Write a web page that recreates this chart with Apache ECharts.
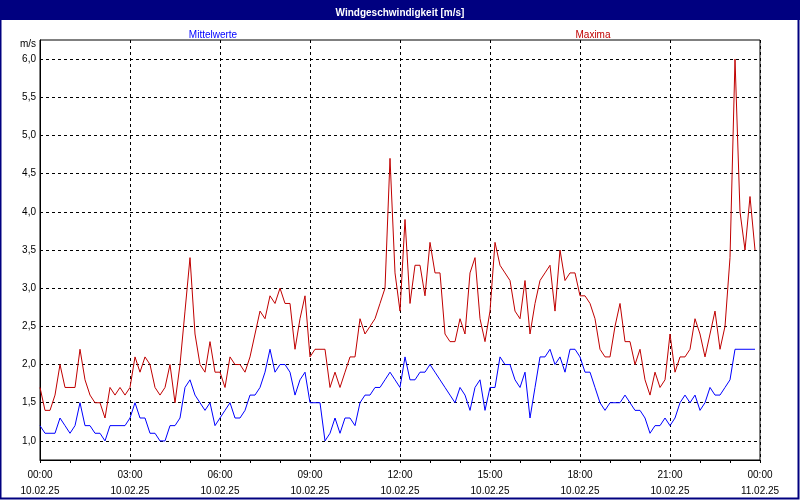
<!DOCTYPE html>
<html>
<head>
<meta charset="utf-8">
<script src="https://cdn.jsdelivr.net/npm/echarts@6/dist/echarts.min.js"></script>
<style>html,body{margin:0;padding:0;background:#fff;}#c{width:800px;height:500px;}</style>
</head>
<body>
<div id="c"></div>
<script>
// Sample interval: 10 minutes, starting 10.02.25 00:00
const stepMinutes = 10;
const mittelwerte = [
  1.2,1.1,1.1,1.1,1.3,1.2,1.1,1.2,1.5,1.2,1.2,1.1,1.1,1.0,1.2,1.2,1.2,1.2,
  1.3,1.5,1.3,1.3,1.1,1.1,1.0,1.0,1.2,1.2,1.3,1.7,1.8,1.6,1.5,1.4,1.5,1.2,
  1.3,1.4,1.5,1.3,1.3,1.4,1.6,1.6,1.7,1.9,2.2,1.9,2.0,2.0,1.9,1.6,1.8,1.9,
  1.5,1.5,1.5,1.0,1.1,1.3,1.1,1.3,1.3,1.2,1.5,1.6,1.6,1.7,1.7,1.8,1.9,1.8,
  1.7,2.1,1.8,1.8,1.9,1.9,2.0,1.9,1.8,1.7,1.6,1.5,1.7,1.6,1.4,1.7,1.8,1.4,
  1.7,1.7,2.1,2.0,2.0,1.8,1.7,1.9,1.3,1.7,2.1,2.1,2.2,2.0,2.1,1.9,2.2,2.2,
  2.1,1.9,1.9,1.7,1.5,1.4,1.5,1.5,1.5,1.6,1.5,1.4,1.4,1.3,1.1,1.2,1.2,1.3,
  1.2,1.3,1.5,1.6,1.5,1.6,1.4,1.5,1.7,1.6,1.6,1.7,1.8,2.2,2.2,2.2,2.2,2.2
];
const maxima = [
  1.7,1.4,1.4,1.6,2.0,1.7,1.7,1.7,2.2,1.8,1.6,1.5,1.5,1.3,1.7,1.6,1.7,1.6,
  1.7,2.1,1.9,2.1,2.0,1.7,1.6,1.7,2.0,1.5,2.0,2.7,3.4,2.4,2.0,1.9,2.3,1.9,
  1.9,1.7,2.1,2.0,2.0,1.9,2.1,2.4,2.7,2.6,2.9,2.8,3.0,2.8,2.8,2.2,2.6,2.9,
  2.1,2.2,2.2,2.2,1.7,1.9,1.7,1.9,2.1,2.1,2.6,2.4,2.5,2.6,2.8,3.0,4.7,3.2,
  2.7,3.9,2.8,3.3,3.3,2.9,3.6,3.2,3.2,2.4,2.3,2.3,2.6,2.4,3.2,3.4,2.6,2.3,
  2.7,3.6,3.3,3.2,3.1,2.7,2.6,3.1,2.4,2.8,3.1,3.2,3.3,2.7,3.5,3.1,3.2,3.2,
  2.9,2.9,2.8,2.6,2.2,2.1,2.1,2.5,2.8,2.3,2.3,2.0,2.2,1.8,1.6,1.9,1.7,1.8,
  2.4,1.9,2.1,2.1,2.2,2.6,2.4,2.1,2.4,2.7,2.2,2.5,3.4,6.0,4.0,3.5,4.2,3.5
];
const xTickTimes = ['00:00','03:00','06:00','09:00','12:00','15:00','18:00','21:00','00:00'];
const xTickDates = ['10.02.25','10.02.25','10.02.25','10.02.25','10.02.25','10.02.25','10.02.25','10.02.25','11.02.25'];
const titleText = 'Windgeschwindigkeit [m/s]';
const unitText = 'm/s';

const toPairs = arr => arr.map((v, i) => [i * stepMinutes, v]);
const font = 'Liberation Sans, Arial, sans-serif';

const chart = echarts.init(document.getElementById('c'), null, {renderer: 'canvas'});
chart.setOption({
  animation: false,
  backgroundColor: '#ffffff',
  graphic: [
    {type: 'rect', shape: {x: 0, y: 0, width: 800, height: 20}, style: {fill: '#000080'}, z: 0},
    {type: 'rect', shape: {x: 0.5, y: 0.5, width: 798, height: 498}, style: {fill: 'none', stroke: '#000080', lineWidth: 2}, z: 0},
    {type: 'text', x: 36, y: 44, style: {text: unitText, fill: '#000', font: '10px ' + font, align: 'right', verticalAlign: 'middle'}}
  ],
  title: [
    {text: titleText, left: 'center', top: 3, textStyle: {color: '#fff', fontSize: 10, fontWeight: 'bold', fontFamily: font}},
    {text: 'Mittelwerte', left: 208, top: 25, textAlign: 'center', textStyle: {color: '#0000ff', fontSize: 10, fontWeight: 'normal', fontFamily: font}},
    {text: 'Maxima', left: 588, top: 25, textAlign: 'center', textStyle: {color: '#c00000', fontSize: 10, fontWeight: 'normal', fontFamily: font}}
  ],
  grid: {left: 40, right: 40, top: 40, bottom: 40, show: true, borderColor: '#000', borderWidth: 1, backgroundColor: '#fff'},
  xAxis: {
    type: 'value', min: 0, max: 1440, interval: 180,
    axisLine: {show: true, lineStyle: {color: '#000', width: 1}},
    axisTick: {show: true, length: 3, lineStyle: {color: '#000'}},
    minorTick: {show: true, splitNumber: 3, length: 3, lineStyle: {color: '#000'}},
    splitLine: {show: true, lineStyle: {color: '#000', type: [3, 3], width: 1}},
    axisLabel: {
      color: '#000', fontSize: 10, fontFamily: font, margin: 7, lineHeight: 16,
      formatter: v => { const k = Math.round(v / 180); return xTickTimes[k] + '\n' + xTickDates[k]; }
    }
  },
  yAxis: {
    type: 'value', min: 0.75, max: 6.25, interval: 0.25,
    axisLine: {show: true, lineStyle: {color: '#000', width: 1}},
    axisTick: {show: false},
    splitLine: {show: true, lineStyle: {color: ['rgba(0,0,0,0)', '#000'], type: [3, 3], width: 1}},
    axisLabel: {
      color: '#000', fontSize: 10, fontFamily: font, margin: 4,
      formatter: v => { const r = Math.round(v * 100); return (r % 50 === 0) ? (v.toFixed(1).replace('.', ',')) : ''; }
    }
  },
  series: [
    {name: 'Maxima', type: 'line', data: toPairs(maxima), showSymbol: false, lineStyle: {color: '#c00000', width: 1}, itemStyle: {color: '#c00000'}},
    {name: 'Mittelwerte', type: 'line', data: toPairs(mittelwerte), showSymbol: false, lineStyle: {color: '#0000ff', width: 1}, itemStyle: {color: '#0000ff'}}
  ]
});
</script>
</body>
</html>
